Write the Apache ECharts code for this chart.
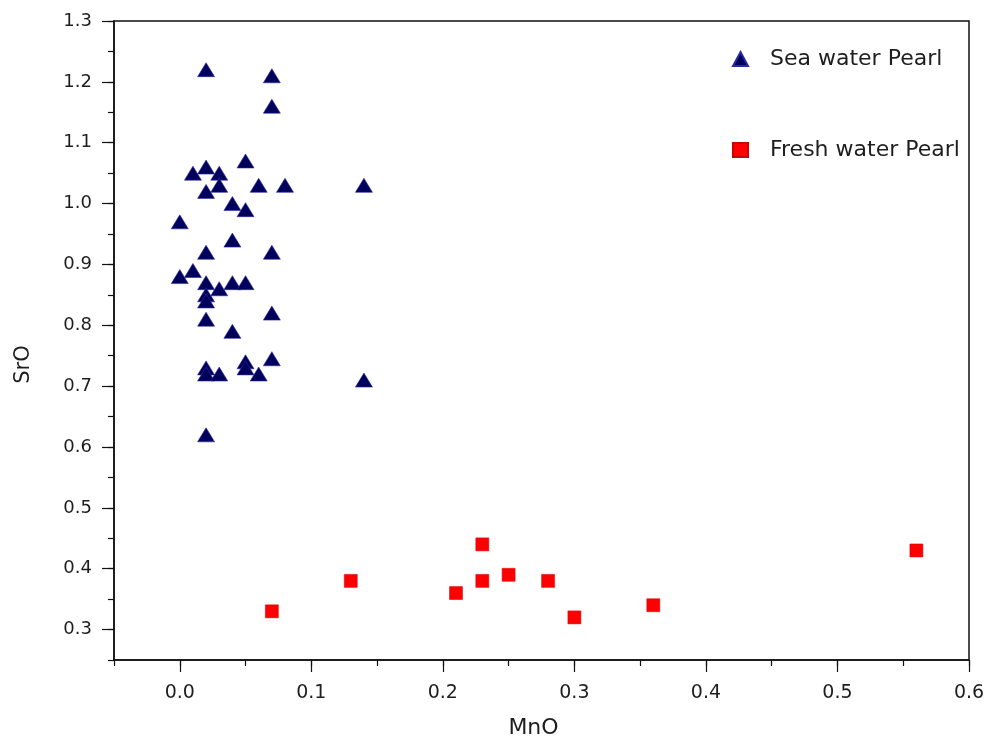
<!DOCTYPE html>
<html>
<head>
<meta charset="utf-8">
<script src="https://cdn.jsdelivr.net/npm/echarts@6/dist/echarts.min.js"></script>
<style>html,body{margin:0;padding:0;background:#fff}#c{width:986px;height:736px}</style>
</head>
<body>
<div id="c"></div>
<script>
const seaMnO = [0.02,0.07,0.07,0.05,0.02,0.01,0.03,0.03,0.02,0.06,0.08,0.14,0.04,0.05,0.00,0.04,0.02,0.07,0.00,0.01,0.02,0.03,0.04,0.05,0.02,0.02,0.02,0.07,0.04,0.02,0.02,0.03,0.05,0.05,0.06,0.07,0.14,0.02];
const seaSrO = [1.22,1.21,1.16,1.07,1.06,1.05,1.05,1.03,1.02,1.03,1.03,1.03,1.00,0.99,0.97,0.94,0.92,0.92,0.88,0.89,0.87,0.86,0.87,0.87,0.85,0.84,0.81,0.82,0.79,0.73,0.72,0.72,0.74,0.73,0.72,0.745,0.71,0.62];
const freshMnO = [0.07,0.13,0.21,0.23,0.23,0.25,0.28,0.30,0.36,0.56];
const freshSrO = [0.33,0.38,0.36,0.44,0.38,0.39,0.38,0.32,0.34,0.43];
const xRange = [-0.05, 0.6];
const yRange = [0.25, 1.3];
const xTickRange = [0.0, 0.6];
const yTickRange = [0.3, 1.3];

const font = 'DejaVu Sans';
const txt = '#1e1e1e';
const ax = '#111';
const chart = echarts.init(document.getElementById('c'));
const zip = (a,b)=>a.map((v,i)=>[v,b[i]]);
const fmt = v => Number(v).toFixed(1);

// plot box in pixels
const L = 114, R = 17, T = 21, B = 76;
const W = 986 - L - R, H = 736 - T - B;
// offsets so that the labelled (major-tick) axes share the same data scale
const xOff = W * (xTickRange[0] - xRange[0]) / (xRange[1] - xRange[0]);
const yOff = H * (yTickRange[0] - yRange[0]) / (yRange[1] - yRange[0]);

chart.setOption({
  animation:false,
  backgroundColor:'#fff',
  textStyle:{fontFamily:font},
  grid:[
    {left:L,right:R,top:T,bottom:B,show:true,borderColor:ax,borderWidth:1.5,outerBoundsMode:'none',containLabel:false},
    {left:L+xOff,right:R,top:T,bottom:B,show:false,outerBoundsMode:'none',containLabel:false},
    {left:L,right:R,top:T,bottom:B+yOff,show:false,outerBoundsMode:'none',containLabel:false}
  ],
  legend:{
    orient:'vertical', left:727, top:43, itemGap:69, itemWidth:15, itemHeight:14,
    textStyle:{fontFamily:font,fontSize:22,color:txt,padding:[0,0,0,17]},
    data:['Sea water Pearl','Fresh water Pearl']
  },
  xAxis:[
    {gridIndex:0,type:'value',min:xRange[0],max:xRange[1],interval:0.05,position:'bottom',
     axisLine:{show:true,onZero:false,lineStyle:{color:ax,width:1.5}},
     axisTick:{show:true,inside:false,length:6,lineStyle:{color:ax,width:1.2}},
     axisLabel:{show:false},splitLine:{show:false},
     name:'MnO',nameLocation:'middle',nameGap:57,
     nameTextStyle:{fontFamily:font,fontSize:22,color:txt,padding:[0,16,0,0]}},
    {gridIndex:1,type:'value',min:xTickRange[0],max:xTickRange[1],interval:0.1,position:'bottom',
     axisLine:{show:false,onZero:false},
     axisTick:{show:true,inside:false,length:12,lineStyle:{color:ax,width:1.2}},
     axisLabel:{show:true,fontFamily:font,fontSize:19,color:txt,margin:24,formatter:fmt},
     splitLine:{show:false}},
    {gridIndex:2,type:'value',min:xRange[0],max:xRange[1],show:false}
  ],
  yAxis:[
    {gridIndex:0,type:'value',min:yRange[0],max:yRange[1],interval:0.05,position:'left',
     axisLine:{show:true,onZero:false,lineStyle:{color:ax,width:1.5}},
     axisTick:{show:true,inside:false,length:6,lineStyle:{color:ax,width:1.2}},
     axisLabel:{show:false},splitLine:{show:false},
     name:'SrO',nameLocation:'middle',nameGap:80,
     nameTextStyle:{fontFamily:font,fontSize:21,color:txt,padding:[0,48,0,0]}},
    {gridIndex:1,type:'value',min:yRange[0],max:yRange[1],show:false},
    {gridIndex:2,type:'value',min:yTickRange[0],max:yTickRange[1],interval:0.1,position:'left',
     axisLine:{show:false,onZero:false},
     axisTick:{show:true,inside:false,length:12,lineStyle:{color:ax,width:1.2}},
     axisLabel:{show:true,fontFamily:font,fontSize:18,color:txt,margin:22,formatter:fmt},
     splitLine:{show:false}}
  ],
  series:[
    {name:'Sea water Pearl',type:'scatter',xAxisIndex:0,yAxisIndex:0,symbol:'triangle',symbolSize:[17,14],
     itemStyle:{color:'#00005c',borderColor:'#2a2aa0',borderWidth:0.6,opacity:1},
     data:zip(seaMnO,seaSrO)},
    {name:'Fresh water Pearl',type:'scatter',xAxisIndex:0,yAxisIndex:0,symbol:'rect',symbolSize:13,
     itemStyle:{color:'#ff0000',borderColor:'#d00000',borderWidth:0.5,opacity:1},
     data:zip(freshMnO,freshSrO)}
  ]
});
</script>
</body>
</html>
